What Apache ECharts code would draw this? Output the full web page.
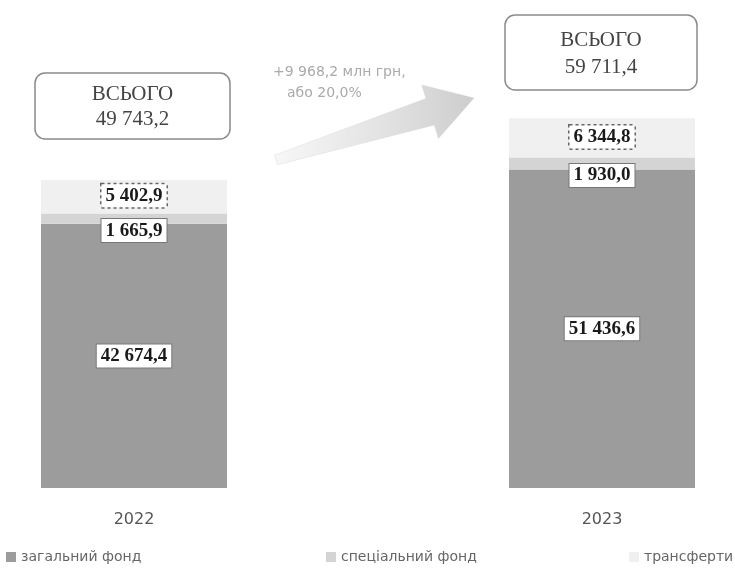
<!DOCTYPE html>
<html>
<head>
<meta charset="utf-8">
<script src="https://cdn.jsdelivr.net/npm/echarts@6/dist/echarts.min.js"></script>
<style>html,body{margin:0;padding:0;background:#fff;}#c{width:735px;height:569px;}</style>
</head>
<body>
<div id="c"></div>
<script>
const categories = ['2022', '2023'];
const generalFund = [42674.4, 51436.6];
const specialFund = [1665.9, 1930.0];
const transfers = [5402.9, 6344.8];
const seriesNames = ['загальний фонд', 'спеціальний фонд', 'трансферти'];
const totalWord = 'ВСЬОГО';
const unitText = 'млн грн';

function fmt(v) {
  const s = v.toFixed(1).split('.');
  return s[0].replace(/\B(?=(\d{3})+(?!\d))/g, ' ') + ',' + s[1];
}
const totals = categories.map((c, i) => generalFund[i] + specialFund[i] + transfers[i]);
const diff = totals[1] - totals[0];
const pct = diff / totals[0] * 100;

const chart = echarts.init(document.getElementById('c'));

const labelBase = {
  show: true,
  fontFamily: 'Liberation Serif',
  fontWeight: 'bold',
  fontSize: 19,
  color: '#1a1a1a',
  backgroundColor: '#fff',
  borderColor: '#777',
  borderWidth: 1,
  padding: [3, 4, 1, 4],
  formatter: p => fmt(p.value)
};

function arrowPoints(tx, ty, px, py, shaftHalf, headHalf, headLen, tailHalf) {
  const dx = px - tx, dy = py - ty;
  const L = Math.sqrt(dx * dx + dy * dy);
  const ux = dx / L, uy = dy / L;
  const nx = -uy, ny = ux;
  const bx = px - ux * headLen, by = py - uy * headLen;
  return [
    [tx + nx * tailHalf, ty + ny * tailHalf],
    [bx + nx * shaftHalf, by + ny * shaftHalf],
    [bx + nx * headHalf, by + ny * headHalf],
    [px, py],
    [bx - nx * headHalf, by - ny * headHalf],
    [bx - nx * shaftHalf, by - ny * shaftHalf],
    [tx - nx * tailHalf, ty - ny * tailHalf]
  ];
}

function totalBox(x, y, w, h, lh, i) {
  return {
    type: 'group',
    children: [
      { type: 'rect', shape: { x: x, y: y, width: w, height: h, r: 10 },
        style: { fill: '#fff', stroke: '#8a8a8a', lineWidth: 1.5 } },
      { type: 'text', x: x + w / 2, y: y + h / 2 + 1,
        style: { text: totalWord + '\n' + fmt(totals[i]), font: '21px "Liberation Serif"',
          fill: '#444', align: 'center', verticalAlign: 'middle', lineHeight: lh } }
    ]
  };
}

const legendCommon = {
  top: 545, icon: 'rect', itemWidth: 10, itemHeight: 10, itemGap: 6,
  textStyle: { fontFamily: 'DejaVu Sans', fontSize: 14, color: '#666' },
  selectedMode: false
};

chart.setOption({
  animation: false,
  backgroundColor: '#fff',
  grid: { left: 134, right: 133, bottom: 81, height: 371.5, containLabel: false },
  xAxis: {
    type: 'category', data: categories, boundaryGap: false,
    axisLine: { show: false }, axisTick: { show: false },
    axisLabel: { margin: 24, fontFamily: 'DejaVu Sans', fontSize: 16, color: '#555' }
  },
  yAxis: { type: 'value', min: 0, max: 60000, show: false, splitLine: { show: false } },
  legend: [
    Object.assign({ left: 1, data: [seriesNames[0]] }, legendCommon),
    Object.assign({ left: 321, data: [seriesNames[1]] }, legendCommon),
    Object.assign({ left: 624, data: [seriesNames[2]] }, legendCommon)
  ],
  series: [
    {
      name: seriesNames[0], type: 'bar', stack: 'a', barWidth: 186, clip: false,
      data: generalFund, itemStyle: { color: '#9c9c9c' },
      label: Object.assign({ position: 'inside' }, labelBase)
    },
    {
      name: seriesNames[1], type: 'bar', stack: 'a', barWidth: 186, clip: false,
      data: specialFund, itemStyle: { color: '#d4d4d4' },
      label: Object.assign({ position: 'inside', offset: [0, 12] }, labelBase)
    },
    {
      name: seriesNames[2], type: 'bar', stack: 'a', barWidth: 186, clip: false,
      data: transfers, itemStyle: { color: '#f0f0f0' },
      label: Object.assign({}, labelBase, { position: 'inside', offset: [0, -1], borderType: 'dotted', borderColor: '#666', borderWidth: 1.5 })
    }
  ],
  graphic: [
    totalBox(35, 73, 195, 66, 25, 0),
    totalBox(505, 15, 192, 75, 27, 1),
    {
      type: 'polygon',
      shape: { points: arrowPoints(276, 160, 474, 98, 14, 28, 46, 5) },
      style: {
        fill: new echarts.graphic.LinearGradient(0, 0, 1, 0, [
          { offset: 0, color: 'rgba(215,215,215,0.2)' },
          { offset: 1, color: 'rgba(205,205,205,1)' }
        ]),
        stroke: 'rgba(200,200,200,0.6)', lineWidth: 0.5
      }
    },
    { type: 'text', x: 273, y: 72,
      style: { text: '+' + fmt(diff) + ' ' + unitText + ',', font: '14px "DejaVu Sans"', fill: '#aaa', verticalAlign: 'middle' } },
    { type: 'text', x: 287, y: 93,
      style: { text: 'або ' + fmt(pct) + '%', font: '14px "DejaVu Sans"', fill: '#aaa', verticalAlign: 'middle' } }
  ]
});
</script>
</body>
</html>
